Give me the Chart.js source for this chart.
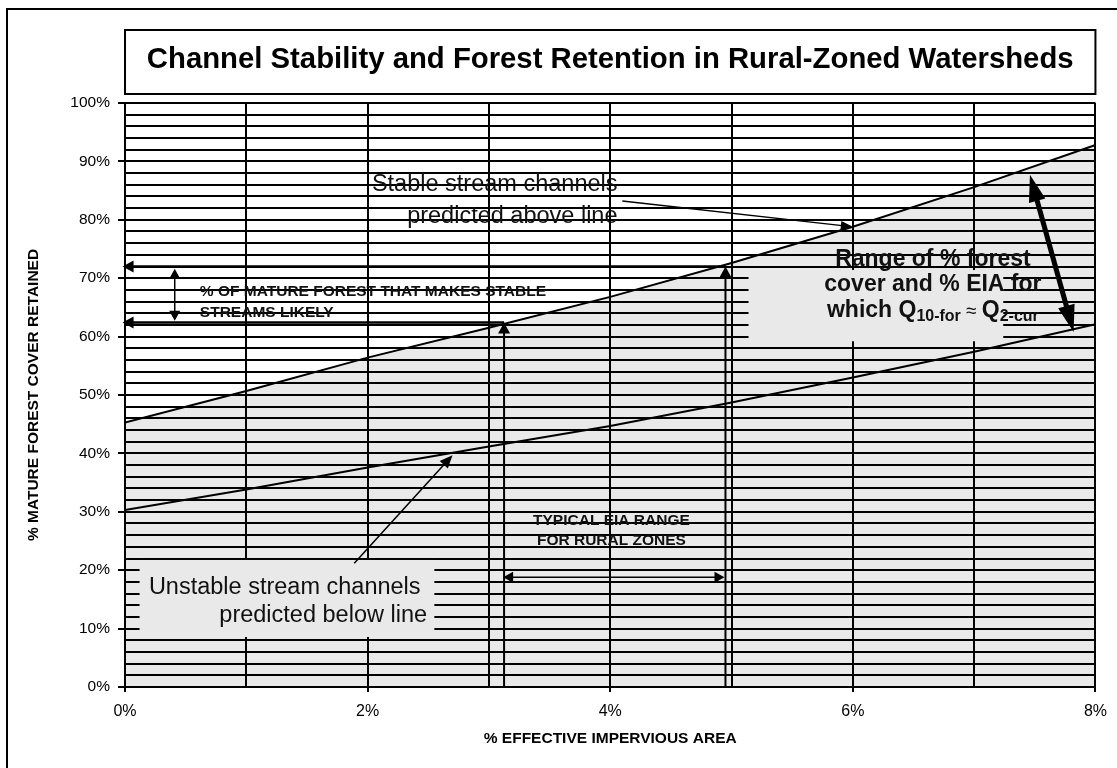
<!DOCTYPE html>
<html>
<head>
<meta charset="utf-8">
<script src="https://cdn.jsdelivr.net/npm/chart.js@4.4.1/dist/chart.umd.min.js"></script>
<style>
  html, body { margin: 0; padding: 0; background: #fff; }
  canvas { display: block; }
</style>
</head>
<body>
<canvas id="chart" width="1117" height="768"></canvas>
<script>
// % effective impervious area (x) and the two forest-cover threshold curves (y, %)
const eiaPct = [0, 1, 2, 3, 4, 5, 6, 7, 8];
const stableForestPct = [45.3, 50.7, 56.4, 61.5, 66.8, 72.6, 78.8, 85.6, 92.8];
const unstableForestPct = [30.3, 33.8, 37.6, 41.2, 44.7, 48.7, 53.0, 57.4, 62.1];

// labelled ticks (gridlines run every 1% on x, every 2% on y)
const xLabelValues = [0, 2, 4, 6, 8];
const yLabelValues = [0, 10, 20, 30, 40, 50, 60, 70, 80, 90, 100];

const FAMILY = "'Liberation Sans', Arial, sans-serif";
const FILL = "#e9e9e9";

Chart.defaults.font.family = FAMILY;
Chart.defaults.color = "#000";

// annotations, in data units (x = % EIA, y = % forest)
const noteBoxes = [
  { x0: 0.12, x1: 2.55, y0: 21.75, y1: 8.56 },
  { x0: 5.14, x1: 7.24, y0: 71.4, y1: 59.2 },
];

const noteArrows = [
  { from: [4.95, 72.0], to: [-0.02, 72.0], w: 2.5, len: 11, wid: 12 },
  { from: [3.125, 62.4], to: [-0.02, 62.4], w: 2.5, len: 11, wid: 12 },
  { from: [0.41, 62.7], to: [0.41, 71.6], w: 1.5, len: 10, wid: 11, both: true },
  { from: [3.125, 0], to: [3.125, 62.4], w: 2, len: 11, wid: 12 },
  { from: [4.95, 0], to: [4.95, 72.0], w: 2, len: 11, wid: 12 },
  { from: [3.117, 18.8], to: [4.942, 18.8], w: 1.5, len: 10, wid: 11, both: true },
  { from: [4.10, 83.2], to: [6.0, 78.8], w: 1.5, len: 12, wid: 9 },
  { from: [1.89, 21.2], to: [2.70, 39.7], w: 1.5, len: 13, wid: 11 },
  { from: [7.82, 60.8], to: [7.46, 87.7], w: 5, len: 27, wid: 17, both: true },
];

const NOTE = `23.5px ${FAMILY}`;
const SMALL_BOLD = `bold 15.5px ${FAMILY}`;
const BIG_BOLD = `bold 23px ${FAMILY}`;

const noteTexts = [
  { text: "Stable stream channels", x: 4.06, y: 84.9, align: "right", font: NOTE },
  { text: "predicted above line", x: 4.06, y: 79.5, align: "right", font: NOTE },
  { text: "Unstable stream channels", x: 0.197, y: 15.9, align: "left", font: NOTE },
  { text: "predicted below line", x: 2.49, y: 11.1, align: "right", font: NOTE },
  { text: "% OF MATURE FOREST THAT MAKES STABLE", x: 0.617, y: 67.0, align: "left", font: SMALL_BOLD },
  { text: "STREAMS LIKELY", x: 0.617, y: 63.4, align: "left", font: SMALL_BOLD },
  { text: "TYPICAL EIA RANGE", x: 4.01, y: 27.7, align: "center", font: SMALL_BOLD },
  { text: "FOR RURAL ZONES", x: 4.01, y: 24.3, align: "center", font: SMALL_BOLD },
  { text: "Range of % forest", x: 6.66, y: 72.1, align: "center", font: BIG_BOLD },
  { text: "cover and % EIA for", x: 6.66, y: 67.8, align: "center", font: BIG_BOLD },
];

// "which Q10-for ≈ Q2-cur" with subscripts
const richLine = {
  x: 6.66, y: 63.3,
  parts: [
    { t: "which Q", font: BIG_BOLD, dy: 0 },
    { t: "10-for", font: `bold 16px ${FAMILY}`, dy: 4 },
    { t: " \u2248 ", font: `19px ${FAMILY}`, dy: 0 },
    { t: "Q", font: BIG_BOLD, dy: 0 },
    { t: "2-cur", font: `bold 16px ${FAMILY}`, dy: 4 },
  ]
};

function drawHead(ctx, x1, y1, x2, y2, len, wid) {
  const ang = Math.atan2(y2 - y1, x2 - x1);
  ctx.save();
  ctx.translate(x2, y2);
  ctx.rotate(ang);
  ctx.beginPath();
  ctx.moveTo(0, 0);
  ctx.lineTo(-len, wid / 2);
  ctx.lineTo(-len, -wid / 2);
  ctx.closePath();
  ctx.fill();
  ctx.restore();
}

function drawArrow(ctx, x1, y1, x2, y2, a) {
  const ang = Math.atan2(y2 - y1, x2 - x1);
  const cx = Math.cos(ang), cy = Math.sin(ang);
  const ex = x2 - cx * a.len * 0.7, ey = y2 - cy * a.len * 0.7;
  const sx = a.both ? x1 + cx * a.len * 0.7 : x1;
  const sy = a.both ? y1 + cy * a.len * 0.7 : y1;
  ctx.lineWidth = a.w;
  ctx.beginPath();
  ctx.moveTo(sx, sy);
  ctx.lineTo(ex, ey);
  ctx.stroke();
  drawHead(ctx, x1, y1, x2, y2, a.len, a.wid);
  if (a.both) drawHead(ctx, x2, y2, x1, y1, a.len, a.wid);
}

const annotate = {
  id: "annotate",
  afterDraw(chart) {
    const { ctx, chartArea: area, scales: { x, y } } = chart;
    const px = v => x.getPixelForValue(v);
    const py = v => y.getPixelForValue(v);
    ctx.save();

    // outer frame (runs off the page to the right and bottom)
    ctx.strokeStyle = "#000";
    ctx.lineWidth = 2;
    ctx.strokeRect(7, 9, 1300, 900);

    // title box
    ctx.strokeRect(area.left, 30, area.right - area.left, 64);
    ctx.fillStyle = "#000";
    ctx.font = `bold 29.3px ${FAMILY}`;
    ctx.textAlign = "center";
    ctx.textBaseline = "alphabetic";
    ctx.fillText("Channel Stability and Forest Retention in Rural-Zoned Watersheds",
      (area.left + area.right) / 2, 68);

    // text boxes hiding the grid
    ctx.fillStyle = FILL;
    noteBoxes.forEach(b => {
      ctx.fillRect(px(b.x0), py(b.y0), px(b.x1) - px(b.x0), py(b.y1) - py(b.y0));
    });

    // arrows
    ctx.strokeStyle = "#000";
    ctx.fillStyle = "#000";
    noteArrows.forEach(a => {
      drawArrow(ctx, px(a.from[0]), py(a.from[1]), px(a.to[0]), py(a.to[1]), a);
    });

    // texts
    ctx.textBaseline = "alphabetic";
    noteTexts.forEach(t => {
      ctx.font = t.font;
      ctx.textAlign = t.align;
      ctx.fillStyle = "#111";
      ctx.fillText(t.text, px(t.x), py(t.y));
    });

    let total = 0;
    richLine.parts.forEach(p => { ctx.font = p.font; p.w = ctx.measureText(p.t).width; total += p.w; });
    let cx = px(richLine.x) - total / 2;
    ctx.textAlign = "left";
    richLine.parts.forEach(p => {
      ctx.font = p.font;
      ctx.fillText(p.t, cx, py(richLine.y) + p.dy);
      cx += p.w;
    });

    ctx.restore();
  }
};

new Chart(document.getElementById("chart"), {
  type: "line",
  data: {
    datasets: [
      {
        label: "Stable channels above",
        data: eiaPct.map((v, i) => ({ x: v, y: stableForestPct[i] })),
        borderColor: "#000",
        borderWidth: 2,
        pointRadius: 0,
        tension: 0,
        fill: "origin",
        backgroundColor: FILL,
        order: 1,
      },
      {
        label: "Unstable channels below",
        data: eiaPct.map((v, i) => ({ x: v, y: unstableForestPct[i] })),
        borderColor: "#000",
        borderWidth: 2,
        pointRadius: 0,
        tension: 0,
        fill: false,
        order: 0,
      }
    ]
  },
  options: {
    responsive: false,
    animation: false,
    layout: { padding: { left: 0, right: 19, top: 103, bottom: 13 } },
    plugins: {
      legend: { display: false },
      tooltip: { enabled: false },
    },
    scales: {
      x: {
        type: "linear",
        min: 0,
        max: 8,
        afterFit(scale) { scale.height = 68; },
        border: { color: "#000", width: 2, z: 1 },
        grid: {
          z: 1,
          color: "#000",
          lineWidth: 2,
          tickLength: 5,
          tickColor: c => (c.tick && xLabelValues.includes(c.tick.value)) ? "#000" : "rgba(0,0,0,0)",
        },
        ticks: {
          stepSize: 1,
          autoSkip: false,
          maxRotation: 0,
          padding: 10,
          color: "#000",
          font: { size: 16 },
          callback: v => xLabelValues.includes(v) ? v + "%" : "",
        },
        title: {
          display: true,
          text: "% EFFECTIVE IMPERVIOUS AREA",
          color: "#000",
          font: { size: 15.5, weight: "bold", lineHeight: 1.2 },
          padding: { top: 0, bottom: 6.7 },
        },
      },
      y: {
        type: "linear",
        min: 0,
        max: 100,
        afterFit(scale) { scale.width = 125; },
        border: { color: "#000", width: 2, z: 1 },
        grid: {
          z: 1,
          color: "#000",
          lineWidth: 2,
          tickLength: 7,
          tickColor: c => (c.tick && yLabelValues.includes(c.tick.value)) ? "#000" : "rgba(0,0,0,0)",
        },
        ticks: {
          stepSize: 2,
          autoSkip: false,
          padding: 8,
          color: "#000",
          font: { size: 15.5 },
          callback: v => yLabelValues.includes(v) ? v + "%" : "",
        },
        title: {
          display: true,
          text: "% MATURE FOREST COVER RETAINED",
          color: "#000",
          font: { size: 15.5, weight: "bold", lineHeight: 1.2 },
          padding: { top: 24.7, bottom: 0 },
        },
      }
    }
  },
  plugins: [annotate]
});
</script>
</body>
</html>
